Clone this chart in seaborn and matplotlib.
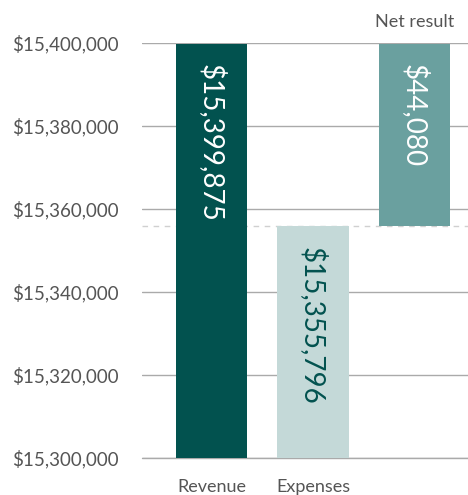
#!/usr/bin/env python3
"""
Waterfall: revenue, expenses and net result
"""

import pandas as pd
import matplotlib
matplotlib.use("Agg")
import matplotlib.pyplot as plt
import matplotlib.transforms as mtransforms
import seaborn as sns

# dados
categorias = ["Revenue", "Expenses", "Net result"]
bases = [15_300_000, 15_300_000, 15_355_796]
topos = [15_399_875, 15_355_796, 15_399_875]
rotulos = ["$15,399,875", "$15,355,796", "$44,080"]
ticks_y = [15_300_000, 15_320_000, 15_340_000, 15_360_000, 15_380_000, 15_400_000]

cores = ["#02524f", "#c4d9d8", "#6aa09f"]
cores_texto = ["white", "#02524f", "white"]

sns.set_theme(style="white")
plt.rcParams["font.family"] = ["Lato", "DejaVu Sans"]

df = pd.DataFrame({"categoria": categorias, "base": bases, "topo": topos})

fig = plt.figure(figsize=(4.68, 4.95), dpi=100)
ax = fig.add_axes([142 / 468, 1 - 458 / 495, 1 - 142 / 468, (458 - 43) / 495])

sns.barplot(data=df, x="categoria", y="topo", hue="categoria", palette=cores,
            width=0.7, legend=False, saturation=1, linewidth=0, ax=ax, zorder=2)

# barra do resultado começa no topo das despesas
for patch, base in zip(ax.patches, df["base"]):
    topo = patch.get_y() + patch.get_height()
    patch.set_y(base)
    patch.set_height(topo - base)

ax.set_ylim(15_300_000, 15_400_000)
ax.set_xlim(-0.685, 2.527)
ax.set_yticks(ticks_y)
ax.set_yticklabels([f"${v:,.0f}" for v in ticks_y], color="#555555", fontsize=13.5)
ax.tick_params(axis="y", length=0, pad=17)
ax.yaxis.grid(True, color="#aaaaaa", lw=1)
ax.set_axisbelow(True)
for s in ax.spines.values():
    s.set_visible(False)
# linha da base (fica cortada no limite do eixo)
ax.axhline(ticks_y[0], color="#aaaaaa", lw=1, clip_on=False, zorder=0.5)

# linha tracejada no nível das despesas
ax.axhline(topos[1], color="#d0d0d0", lw=1, ls=(0, (4, 4)), zorder=1)

# rótulos de categoria
ax.set_xticks(range(len(categorias)))
ax.set_xticklabels(["Revenue", "Expenses", ""], color="#555555", fontsize=13)
ax.tick_params(axis="x", length=0, pad=15)
ax.set_xlabel("")
ax.set_ylabel("")
trans = mtransforms.blended_transform_factory(ax.transData, ax.transAxes)
ax.annotate("Net result", xy=(2, 1), xycoords=trans, xytext=(0, 15),
            textcoords="offset points", ha="center", va="center",
            color="#555555", fontsize=13)

# valores dentro das barras
for i, (topo, txt, c) in enumerate(zip(topos, rotulos, cores_texto)):
    ax.annotate(txt, xy=(i, topo), xytext=(0, -15), textcoords="offset points",
                rotation=270, ha="center", va="top", color=c, fontsize=20)

fig.savefig("out.png", dpi=100)
